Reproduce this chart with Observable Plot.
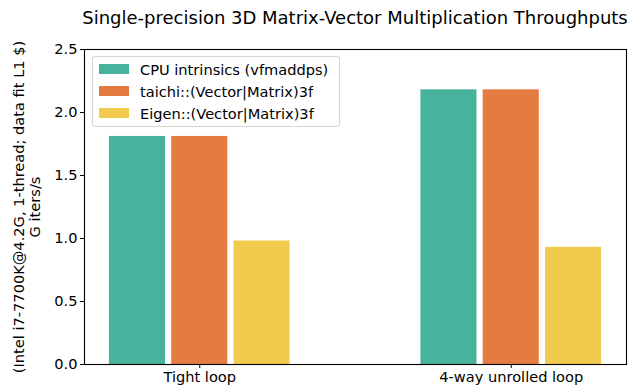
<!DOCTYPE html>
<html>
<head>
<meta charset="utf-8">
<script src="https://cdn.jsdelivr.net/npm/d3@7"></script>
<script src="https://cdn.jsdelivr.net/npm/@observablehq/plot@0.6"></script>
<style>
  html, body { margin: 0; padding: 0; background: #fff; }
  #wrap { position: relative; width: 639px; height: 389px; font-family: "DejaVu Sans", sans-serif; }
  #title { position: absolute; left: 55px; width: 600px; top: 8px; text-align: center; font-size: 18px; line-height: 20px; color: #000; white-space: nowrap; }
  #legend { position: absolute; left: 92px; top: 56px; width: 246px; height: 69px; border: 1px solid #d4d4d4; border-radius: 3px; background: rgba(255,255,255,0.85); box-sizing: content-box; }
  .row { position: absolute; left: 6px; height: 22px; display: flex; align-items: center; font-size: 14.6px; color: #000; white-space: nowrap; }
  .sw { width: 30px; height: 10.5px; margin-right: 11px; }
</style>
</head>
<body>
<div id="wrap">
  <div id="title"></div>
  <div id="legend"></div>
</div>
<script>
const title = "Single-precision 3D Matrix-Vector Multiplication Throughputs";
const yLabelLines = ["(Intel i7-7700K@4.2G, 1-thread; data fit L1 $)", "G iters/s"];
const groups = ["Tight loop", "4-way unrolled loop"];
const series = ["CPU intrinsics (vfmaddps)", "taichi::(Vector|Matrix)3f", "Eigen::(Vector|Matrix)3f"];
const cpuValues = [1.81, 2.18];
const taichiValues = [1.81, 2.18];
const eigenValues = [0.98, 0.93];
const colors = ["#47b39d", "#e47c42", "#f0cb4e"];
const yTicks = [0, 0.5, 1.0, 1.5, 2.0, 2.5];

const seriesValues = [cpuValues, taichiValues, eigenValues];
const rows = groups.flatMap((g, gi) => series.map((s, sj) => ({gi, sj, group: g, series: s, value: seriesValues[sj][gi]})));
const step = 0.2, barW = 0.18;

document.getElementById("title").textContent = title;
const legend = document.getElementById("legend");
series.forEach((s, i) => {
  const r = document.createElement("div");
  r.className = "row";
  r.style.top = (1 + i * 22) + "px";
  const sw = document.createElement("div");
  sw.className = "sw";
  sw.style.background = colors[i];
  const t = document.createElement("span");
  t.textContent = s;
  r.appendChild(sw); r.appendChild(t);
  legend.appendChild(r);
});

const fs = 14.6;
const chart = Plot.plot({
  width: 639,
  height: 389,
  marginLeft: 84,
  marginRight: 13,
  marginTop: 49,
  marginBottom: 25,
  style: {fontFamily: "DejaVu Sans, sans-serif", fontSize: fs + "px", color: "#000", background: "transparent", overflow: "visible"},
  x: {type: "linear", domain: [-0.37, 1.37]},
  y: {domain: [0, 2.5]},
  color: {domain: series, range: colors},
  marks: [
    Plot.rectY(rows, {
      x1: d => d.gi + (d.sj - 1) * step - barW / 2,
      x2: d => d.gi + (d.sj - 1) * step + barW / 2,
      y: "value",
      fill: "series"
    }),
    Plot.frame({stroke: "#000", strokeWidth: 1.1}),
    Plot.axisY(yTicks, {tickSize: 4, tickPadding: 3, tickFormat: d => d.toFixed(1), label: null, fontSize: fs}),
    Plot.axisX(groups.map((g, i) => i), {tickSize: 4, tickPadding: 3, tickFormat: i => groups[i], label: null, fontSize: fs}),
    Plot.text([yLabelLines.join("\n")], {
      frameAnchor: "left", rotate: -90, dx: -58, text: d => d,
      textAnchor: "middle", lineAnchor: "middle", lineHeight: 1.1, fontSize: fs, fill: "#000"
    })
  ]
});
chart.style.position = "absolute";
chart.style.left = "0px";
chart.style.top = "0px";
document.getElementById("wrap").insertBefore(chart, document.getElementById("title"));
</script>
</body>
</html>
